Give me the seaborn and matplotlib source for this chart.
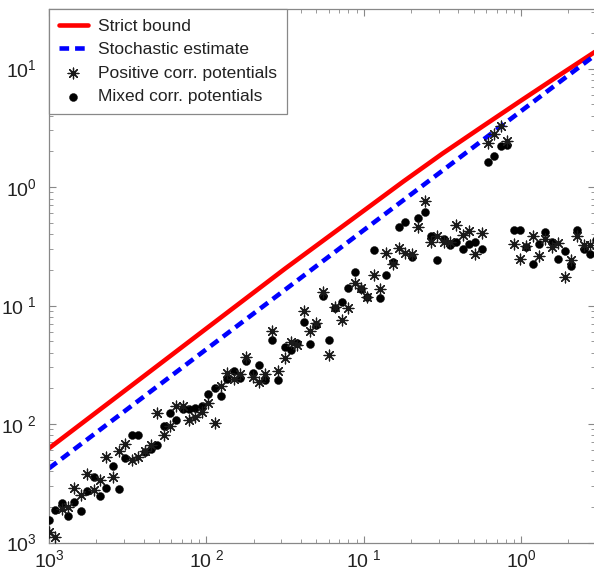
import numpy as np
import pandas as pd
import matplotlib
matplotlib.use("Agg")
import matplotlib.pyplot as plt
import seaborn as sns
from matplotlib.ticker import FixedLocator, FixedFormatter, LogLocator, NullFormatter

# ---- data (stored as log10 exponents) ----
x_exp = [-3.000, -2.960, -2.919, -2.879, -2.838, -2.798, -2.757, -2.717, -2.676, -2.636,
         -2.596, -2.555, -2.515, -2.474, -2.434, -2.393, -2.353, -2.312, -2.272, -2.231,
         -2.191, -2.151, -2.110, -2.070, -2.029, -1.989, -1.948, -1.908, -1.867, -1.827,
         -1.787, -1.746, -1.706, -1.665, -1.625, -1.584, -1.544, -1.503, -1.463, -1.422,
         -1.382, -1.342, -1.301, -1.261, -1.220, -1.180, -1.139, -1.099, -1.058, -1.018,
         -0.978, -0.937, -0.897, -0.856, -0.816, -0.775, -0.735, -0.694, -0.654, -0.613,
         -0.573, -0.533, -0.492, -0.452, -0.411, -0.371, -0.330, -0.290, -0.249, -0.209,
         -0.169, -0.128, -0.088, -0.047, -0.007, 0.034, 0.074, 0.115, 0.155, 0.196,
         0.236, 0.277, 0.317, 0.358, 0.398, 0.438, 0.479]

mixed_y_exp = [-2.810, -2.726, -2.669, -2.774, -2.656, -2.732, -2.565, -2.451, -2.608, -2.543,
               -2.354, -2.551, -2.283, -2.095, -2.095, -2.239, -2.213, -2.179, -2.017, -1.910,
               -1.970, -1.876, -1.873, -1.869, -1.844, -1.747, -1.696, -1.764, -1.616, -1.549,
               -1.608, -1.467, -1.567, -1.506, -1.631, -1.291, -1.629, -1.348, -1.376, -1.319,
               -1.137, -1.327, -1.165, -0.922, -1.291, -1.024, -0.973, -0.855, -0.715, -0.861,
               -0.928, -0.532, -0.939, -0.743, -0.629, -0.335, -0.291, -0.588, -0.264, -0.211,
               -0.416, -0.616, -0.437, -0.492, -0.464, -0.521, -0.483, -0.464, -0.526, 0.214,
               0.262, 0.349, 0.354, -0.363, -0.363, -0.504, -0.650, -0.479, -0.380, -0.462,
               -0.608, -0.543, -0.664, -0.363, -0.522, -0.563, -0.447]

positive_y_exp = [-2.909, -2.956, -2.717, -2.700, -2.544, -2.603, -2.422, -2.561, -2.473, -2.276,
                  -2.451, -2.225, -2.165, -2.300, -2.276, -2.228, -2.181, -1.910, -2.093, -2.021,
                  -1.846, -1.846, -1.966, -1.938, -1.896, -1.820, -1.994, -1.675, -1.567, -1.620,
                  -1.582, -1.432, -1.601, -1.648, -1.574, -1.211, -1.549, -1.447, -1.304, -1.333,
                  -1.046, -1.215, -1.145, -0.882, -1.415, -1.010, -1.122, -1.017, -0.808, -0.851,
                  -0.926, -0.743, -0.859, -0.555, -0.650, -0.517, -0.557, -0.565, -0.338, -0.118,
                  -0.466, -0.416, -0.460, -0.462, -0.321, -0.405, -0.370, -0.563, -0.391, 0.374,
                  0.445, 0.517, 0.391, -0.479, -0.608, -0.498, -0.414, -0.578, -0.439, -0.502,
                  -0.475, -0.757, -0.620, -0.414, -0.485, -0.489]

line_x_exp = [-3.0, -2.5, -2.0, -1.5, -1.0, -0.75, -0.5, -0.25, 0.0, 0.25, 0.471]
strict_exp = [-2.205, -1.700, -1.194, -0.689, -0.200, 0.045, 0.282, 0.507, 0.730, 0.950, 1.142]
stochastic_exp = [-2.374, -1.872, -1.369, -0.867, -0.364, -0.113, 0.138, 0.390, 0.641, 0.892, 1.114]

x_tick_values = [1e-3, 1e-2, 1e-1, 1e0]
x_tick_labels = [r"$\mathregular{10^{3}}$", r"$\mathregular{10^{\ 2}}$",
                 r"$\mathregular{10^{\ 1}}$", r"$\mathregular{10^{0}}$"]
y_tick_values = [1e-3, 1e-2, 1e-1, 1e0, 1e1]
y_tick_labels = [r"$\mathregular{10^{3}}$", r"$\mathregular{10^{\ 2}}$",
                 r"$\mathregular{10^{\ 1}}$", r"$\mathregular{10^{0}}$", r"$\mathregular{10^{1}}$"]

series_names = ["Strict bound", "Stochastic estimate",
                "Positive corr. potentials", "Mixed corr. potentials"]

# ---- tables ----
lines_df = pd.DataFrame({"x": np.power(10.0, line_x_exp),
                         "strict": np.power(10.0, strict_exp),
                         "stoch": np.power(10.0, stochastic_exp)})
pos_df = pd.DataFrame({"x": np.power(10.0, x_exp[:len(positive_y_exp)]),
                       "y": np.power(10.0, positive_y_exp)})
mix_df = pd.DataFrame({"x": np.power(10.0, x_exp[:len(mixed_y_exp)]),
                       "y": np.power(10.0, mixed_y_exp)})

# ---- style ----
sns.set_style("ticks")
plt.rcParams["font.family"] = ["Liberation Sans Narrow", "Liberation Sans", "DejaVu Sans"]
plt.rcParams["mathtext.fontset"] = "custom"
plt.rcParams["mathtext.rm"] = "Liberation Sans"

fig = plt.figure(figsize=(5.94, 5.77), dpi=100)
ax = fig.add_axes([49 / 594, 34.5 / 577, (594 - 49) / 594 + 0.002, (567.7 - 34.5) / 577])
ax.set_xscale("log")
ax.set_yscale("log")

sns.lineplot(data=lines_df, x="x", y="strict", ax=ax, color="#ff0000", lw=3.3,
             label=series_names[0], sort=True)
sns.lineplot(data=lines_df, x="x", y="stoch", ax=ax, color="#0000ff", lw=3.3,
             label=series_names[1], sort=True, dashes=False)
ax.lines[-1].set_dashes((2.1, 1.3))

sns.scatterplot(data=mix_df, x="x", y="y", ax=ax, marker="o", s=33, color="black",
                edgecolor="black", linewidth=0.3, label=series_names[3], zorder=3)
sns.scatterplot(data=pos_df, x="x", y="y", ax=ax, marker=(8, 2, 0), s=60,
                color="#1a1a1a", linewidth=0.9, label=series_names[2], zorder=4)

ax.set_xlim(1e-3, 10 ** 0.471)
ax.set_ylim(1e-3, 10 ** 1.5)
ax.set_xlabel("")
ax.set_ylabel("")

ax.xaxis.set_major_locator(FixedLocator(x_tick_values))
ax.xaxis.set_major_formatter(FixedFormatter(x_tick_labels))
ax.yaxis.set_major_locator(FixedLocator(y_tick_values))
ax.yaxis.set_major_formatter(FixedFormatter(y_tick_labels))
ax.xaxis.set_minor_locator(LogLocator(base=10, subs=np.arange(2, 10)))
ax.yaxis.set_minor_locator(LogLocator(base=10, subs=np.arange(2, 10)))
ax.xaxis.set_minor_formatter(NullFormatter())
ax.yaxis.set_minor_formatter(NullFormatter())

ax.tick_params(which="both", direction="in", top=True, right=True, color="#888888",
               labelcolor="#222222", labelsize=14)
ax.tick_params(which="major", length=5, width=0.8)
ax.tick_params(which="minor", length=3, width=0.6)
ax.tick_params(axis="y", pad=9)
ax.tick_params(axis="x", pad=5)
for sp in ax.spines.values():
    sp.set_color("#888888")
    sp.set_linewidth(0.9)

handles, labels = ax.get_legend_handles_labels()
order = [labels.index(n) for n in series_names]
leg = ax.legend([handles[i] for i in order], [labels[i] for i in order],
                loc="upper left", bbox_to_anchor=(0, 1), borderaxespad=0,
                fancybox=False, framealpha=1, edgecolor="#888888",
                fontsize=12.5, labelspacing=0.48, handlelength=1.7, handletextpad=0.6,
                borderpad=0.55)
leg.get_frame().set_linewidth(0.9)
for t in leg.get_texts():
    t.set_color("#222222")

fig.savefig("out.png", dpi=100)
